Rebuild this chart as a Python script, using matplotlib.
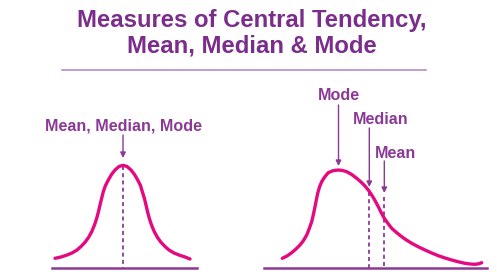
"""
Measures of central tendency: symmetric vs right-skewed curve
Curves are traced off the reference picture (pixel coords, y down).
"""

import matplotlib.pyplot as plt

title_lines = ["Measures of Central Tendency,", "Mean, Median & Mode"]

# symmetric (normal-looking) curve
sym_x = [55, 61, 67, 72, 77, 81, 85, 88.5, 91.7, 94.5, 96.7, 98.5, 100, 101.7,
         103.3, 105.5, 108.3, 111.5, 115, 119, 123,
         127, 131, 134.5, 137.7, 140.5, 142.3, 144.3, 146, 147.5, 149.3, 151.5,
         154.3, 157.5, 161, 165, 169, 174, 179, 185, 190]
sym_y = [258.3, 257, 255, 253, 250, 246.5, 242.3, 237.5, 231.7, 225, 218.3, 211.5,
         205, 198, 191.7, 185.5, 180, 174.5, 170, 166.5, 165.3,
         166.5, 170, 174.5, 180, 185.5, 191.7, 198, 205, 211.5, 218.3, 225,
         231.7, 237.5, 242.3, 246.5, 250, 253, 255, 257, 259]
sym_center = 123

# right-skewed curve
skew_x = [282.3, 287, 291.7, 296, 300, 303.5, 306.7, 309.3, 311.7, 313.5, 315,
          316.3, 317.7, 319.5, 321.7, 324.8, 328.3, 333, 338.3, 342.5, 346.7,
          351.7, 356.7, 361, 365, 368.5, 371.7, 375, 378.3, 381.3, 384.3, 388,
          391.7, 396.7, 401.7, 406.7, 411.7, 418.3, 425, 431.7, 438.3, 445,
          451.7, 458.3, 465, 470, 475, 478.5, 481.7]
skew_y = [258.3, 256, 252.7, 249, 245, 240.5, 235, 228.5, 221.7, 214, 206.7,
          200, 193.3, 187, 181.7, 176.8, 172.7, 170.7, 170, 170.5, 171.7,
          174.5, 178.3, 182, 186, 190.3, 195, 200.5, 206.7, 212.8, 218.3, 223.5,
          228.3, 232.7, 236.7, 240.2, 243.3, 246.8, 250, 253, 255.7, 258,
          260, 261.8, 263.3, 264, 264.3, 263.8, 262.7]
mode_x = 338.5
median_x = 369.3
mean_x = 384.3

baseline_y = 268.3

TITLE = '#7B2D8B'
PINK = '#E5097F'
PURPLE = '#8A3A94'
RULE = '#BB8CC7'


def marker(ax, x, label, text_x, text_y, arrow_from, arrow_to, dash_from):
    ax.text(text_x, text_y, label, ha='center', va='baseline',
            fontsize=11.6, fontweight='bold', color=PURPLE, family='Liberation Sans')
    ax.annotate('', xy=(x, arrow_to), xytext=(x, arrow_from),
                arrowprops=dict(arrowstyle='-|>', color=PURPLE, lw=1.0,
                                mutation_scale=8, shrinkA=0, shrinkB=0))
    if dash_from is not None:
        ax.plot([x, x], [dash_from, baseline_y], color=PURPLE, lw=1.3,
                ls=(0, (2.2, 1.8)), solid_capstyle='butt')


def main():
    fig = plt.figure(figsize=(4.97, 2.75), dpi=100)
    ax = fig.add_axes([0, 0, 1, 1])
    ax.set_xlim(0, 497)
    ax.set_ylim(275, 0)
    ax.axis('off')

    ax.text(252, 26.5, title_lines[0], ha='center', va='baseline', fontsize=17.2,
            fontweight='bold', color=TITLE, family='Liberation Sans')
    ax.text(252, 52.5, title_lines[1], ha='center', va='baseline', fontsize=17.2,
            fontweight='bold', color=TITLE, family='Liberation Sans')
    ax.plot([62, 426], [69.5, 69.5], color=RULE, lw=1.2)

    # baselines
    ax.plot([52, 197], [baseline_y, baseline_y], color=PURPLE, lw=1.8)
    ax.plot([264, 487], [baseline_y, baseline_y], color=PURPLE, lw=1.8)

    # left: symmetric
    marker(ax, sym_center, "Mean, Median, Mode", 123.5, 130.5, 135, 158, 166)
    ax.plot(sym_x, sym_y, color=PINK, lw=2.4, solid_joinstyle='round',
            solid_capstyle='round')

    # right: skewed
    marker(ax, mode_x, "Mode", 339, 100.5, 105, 166, None)
    marker(ax, median_x, "Median", 381, 124.3, 128, 187, 192)
    marker(ax, mean_x, "Mean", 395, 157.7, 161, 193, 197)
    ax.plot(skew_x, skew_y, color=PINK, lw=2.4, solid_joinstyle='round',
            solid_capstyle='round')

    fig.savefig('out.png', dpi=100, facecolor='white')


if __name__ == '__main__':
    main()
